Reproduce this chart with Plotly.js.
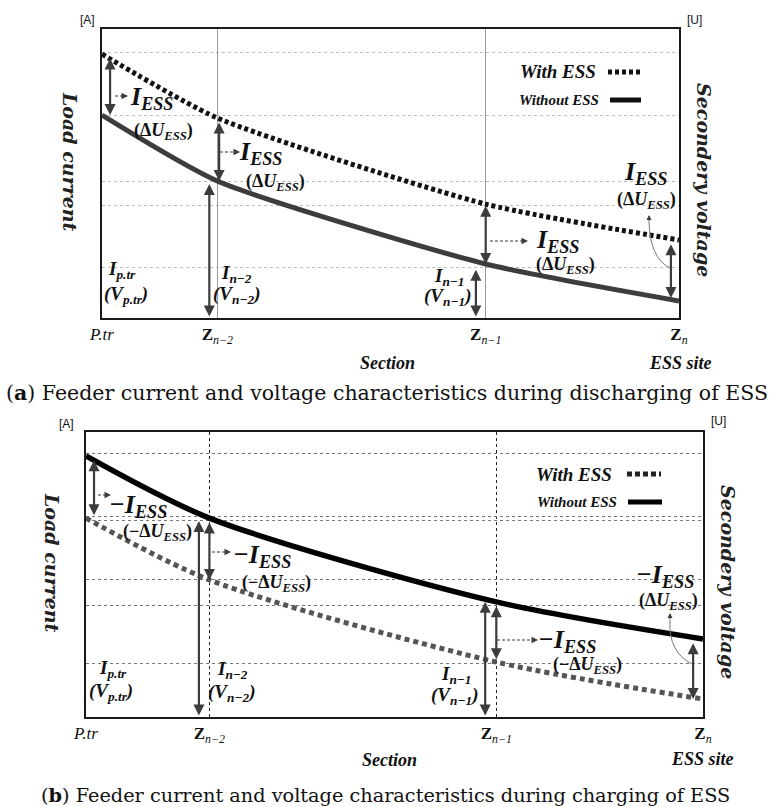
<!DOCTYPE html>
<html>
<head>
<meta charset="utf-8">
<script src="https://cdn.plot.ly/plotly-3.0.1.min.js"></script>
<style>html,body{margin:0;padding:0;background:#fff;}#chart{width:773px;height:807px;}</style>
</head>
<body>
<div id="chart"></div>
<script>
// ---------- data ----------
const sections = [0, 2, 6.65, 10];           // P.tr, Z_{n-2}, Z_{n-1}, Z_n
const sectionLabels = ['<i>P.tr</i>', '<b>Z</b><sub><i>n−2</i></sub>', '<b>Z</b><sub><i>n−1</i></sub>', '<b>Z</b><sub><i>n</i></sub>'];
const dischargeWithESS    = [91.3, 69.2, 39.4, 27.0];
const dischargeWithoutESS = [70.2, 47.4, 18.7, 5.9];
const chargeWithoutESS    = [91.6, 69.8, 40.4, 27.4];
const chargeWithESS       = [69.8, 48.1, 19.3, 6.3];
const gridLevelsA = [91.7, 70.2, 47.1, 39.1, 17.6];
const gridLevelsB = [92.3, 70.5, 68.8, 48.1, 39.3, 18.6];

// ---------- helpers ----------
const W = 773, H = 807;
const px = x => x / W;
const py = y => 1 - y / H;
const MATH = 'Liberation Serif';
const ARROW = '#3c3c3c';

function txt(x, y, text, size, extra) {
  return Object.assign({
    xref: 'paper', yref: 'paper', x: px(x), y: py(y), text: text, showarrow: false,
    xanchor: 'center', yanchor: 'middle',
    font: {family: MATH, size: size, color: '#111', style: 'italic', weight: 'bold'}
  }, extra || {});
}
function dbl(xr, yr, x, y0, y1) {
  return {xref: xr, yref: yr, axref: xr, ayref: yr, x: x, y: y1, ax: x, ay: y0,
    text: '', showarrow: true, arrowhead: 2, startarrowhead: 2, arrowside: 'end+start',
    arrowsize: 1, startarrowsize: 1, arrowwidth: 2.2, arrowcolor: ARROW, standoff: 0, startstandoff: 0};
}
function head(x, y, ax, ay, w) {
  return {xref: 'paper', yref: 'paper', x: px(x), y: py(y), ax: ax, ay: ay, text: '',
    showarrow: true, arrowhead: 2, arrowsize: 1, arrowwidth: w || 1.3, arrowcolor: ARROW};
}
function dashLine(x0, x1, y) {
  return {type: 'line', xref: 'paper', yref: 'paper', x0: px(x0), x1: px(x1 - 4), y0: py(y), y1: py(y),
    line: {color: ARROW, width: 1.2, dash: '3px,2px'}};
}
const dUfont = {family: MATH, size: 18, color: '#111', weight: 'bold'};
const axisTitleFont = {family: 'DejaVu Serif', size: 19, color: '#222', style: 'italic', weight: 'bold'};
const unitFont = {family: 'Liberation Sans', size: 12, color: '#111'};

// ---------- traces ----------
const traces = [
  {x: sections, y: dischargeWithESS, xaxis: 'x', yaxis: 'y', mode: 'lines', name: 'With ESS',
   line: {color: '#111', width: 5, dash: '4px,3px', shape: 'spline', smoothing: 0.6}},
  {x: sections, y: dischargeWithoutESS, xaxis: 'x', yaxis: 'y', mode: 'lines', name: 'Without ESS',
   line: {color: '#3d3d3d', width: 5, shape: 'spline', smoothing: 0.6}},
  {x: sections, y: chargeWithoutESS, xaxis: 'x2', yaxis: 'y2', mode: 'lines', name: 'Without ESS',
   line: {color: '#000', width: 5.5, shape: 'spline', smoothing: 0.8}},
  {x: sections, y: chargeWithESS, xaxis: 'x2', yaxis: 'y2', mode: 'lines', name: 'With ESS',
   line: {color: '#555', width: 5, dash: '5px,4px', shape: 'spline', smoothing: 0.8}}
];

// ---------- axes ----------
function xax(domain, gridColor, gridDash) {
  return {domain: domain, range: [0, 10], tickvals: sections, ticktext: sectionLabels,
    showgrid: true, gridcolor: gridColor, griddash: gridDash, gridwidth: 1, zeroline: false,
    showline: true, mirror: true, linecolor: '#1a1a1a', linewidth: 2, ticks: '',
    tickfont: {family: MATH, size: 17, color: '#111'}, fixedrange: true};
}
function yax(domain, levels, gridColor) {
  return {domain: domain, range: [0, 100], tickvals: levels, showticklabels: false,
    showgrid: true, gridcolor: gridColor, griddash: 'dot', gridwidth: 1, zeroline: false,
    showline: true, mirror: true, linecolor: '#1a1a1a', linewidth: 2, ticks: '', fixedrange: true};
}

const layout = {
  width: W, height: H, margin: {l: 0, r: 0, t: 0, b: 0},
  paper_bgcolor: '#fff', plot_bgcolor: '#fff', showlegend: false,
  xaxis: xax([102 / W, 679 / W], '#9a9a9a', 'solid'),
  yaxis: yax([1 - 318 / H, 1 - 29 / H], gridLevelsA, '#bdbdbd'),
  xaxis2: Object.assign(xax([86 / W, 703 / W], '#222', 'dot'), {anchor: 'y2'}),
  yaxis2: Object.assign(yax([1 - 717 / H, 1 - 432 / H], gridLevelsB, '#777'), {anchor: 'x2'}),
  shapes: [], annotations: []
};
const A = layout.annotations, S = layout.shapes;

// ---------- panel (a) ----------
A.push(txt(87, 20, '[A]', 12, {font: unitFont}));
A.push(txt(694, 20, '[U]', 12, {font: unitFont}));
A.push(txt(70, 162, 'Load current', 20, {textangle: 90, font: axisTitleFont}));
A.push(txt(704, 180, 'Secondery voltage', 20, {textangle: 90, font: axisTitleFont}));
A.push(txt(387, 363, 'Section', 18));
A.push(txt(680, 363, 'ESS site', 18));
// legend
A.push(txt(598, 72, 'With ESS', 19, {xanchor: 'right'}));
A.push(txt(601, 100, 'Without ESS', 15, {xanchor: 'right'}));
S.push({type: 'line', xref: 'paper', yref: 'paper', x0: px(608), x1: px(641), y0: py(72), y1: py(72), line: {color: '#111', width: 5, dash: '4px,3px'}});
S.push({type: 'line', xref: 'paper', yref: 'paper', x0: px(610), x1: px(641), y0: py(100), y1: py(100), line: {color: '#111', width: 5}});
// difference arrows (from data)
A.push(dbl('x', 'y', sections[0] - 0.10, 0, dischargeWithoutESS[0] - 2));
A.push(dbl('x', 'y', sections[0] + 0.14, dischargeWithESS[0] - 1, dischargeWithoutESS[0]));
A.push(dbl('x', 'y', sections[1] - 0.14, 0, dischargeWithoutESS[1] - 1));
A.push(dbl('x', 'y', sections[1] + 0.03, dischargeWithESS[1] - 1, dischargeWithoutESS[1]));
A.push(dbl('x', 'y', sections[2] - 0.17, 0, dischargeWithoutESS[2] - 2));
A.push(dbl('x', 'y', sections[2], dischargeWithESS[2], dischargeWithoutESS[2]));
A.push(dbl('x', 'y', sections[3] - 0.14, dischargeWithESS[3] - 1, dischargeWithoutESS[3] + 1));
A.push(dbl('x', 'y', sections[3] + 0.14, dischargeWithoutESS[3] + 1.5, -2.5));
// labels
const Iess = '<i>I</i><sub><i>ESS</i></sub>';
const dU = '(Δ<i>U</i><sub><b><i>ESS</i></b></sub>)';
A.push(txt(152, 98, Iess, 26));
A.push(txt(163, 131, dU, 18, {font: dUfont}));
A.push(txt(261, 153, Iess, 26));
A.push(txt(275, 182, dU, 18, {font: dUfont}));
A.push(txt(558, 241, Iess, 26));
A.push(txt(565, 265, dU, 18, {font: dUfont}));
A.push(txt(646, 173, Iess, 26));
A.push(txt(646, 200, dU, 18, {font: dUfont}));
A.push(txt(122, 270, '<i>I</i><sub><i>p.tr</i></sub>', 19));
A.push(txt(126, 295, '(<i>V</i><sub><i>p.tr</i></sub>)', 19));
A.push(txt(236, 274, '<i>I</i><sub><i>n−2</i></sub>', 19));
A.push(txt(237, 295, '(<i>V</i><sub><i>n−2</i></sub>)', 19));
A.push(txt(449, 277, '<i>I</i><sub><i>n−1</i></sub>', 19));
A.push(txt(448, 297, '(<i>V</i><sub><i>n−1</i></sub>)', 19));
// dashed arrows
S.push(dashLine(115, 127, 96)); A.push(head(128, 96, -6, 0));
S.push(dashLine(220, 239, 152)); A.push(head(240, 152, -6, 0));
S.push(dashLine(490, 527, 241)); A.push(head(528, 241, -6, 0));
// curved pointer
S.push({type: 'path', xref: 'paper', yref: 'paper',
  path: `M ${px(670)} ${py(268)} Q ${px(650)} ${py(258)} ${px(649)} ${py(222)}`,
  line: {color: '#777', width: 1}});
A.push(head(649, 215, 0, 8, 1));
// caption
A.push(txt(387, 393, '(<b>a</b>) Feeder current and voltage characteristics during discharging of ESS', 20.5,
  {font: {family: 'DejaVu Serif', size: 20.5, color: '#111'}}));

// ---------- panel (b) ----------
A.push(txt(66, 424, '[A]', 12, {font: unitFont}));
A.push(txt(718, 421, '[U]', 12, {font: unitFont}));
A.push(txt(52, 563, 'Load current', 20, {textangle: 90, font: axisTitleFont}));
A.push(txt(728, 582, 'Secondery voltage', 20, {textangle: 90, font: axisTitleFont}));
A.push(txt(390, 760, 'Section', 18));
A.push(txt(702, 759, 'ESS site', 18));
A.push(txt(614, 474, 'With ESS', 19, {xanchor: 'right'}));
A.push(txt(619, 502, 'Without ESS', 15, {xanchor: 'right'}));
S.push({type: 'line', xref: 'paper', yref: 'paper', x0: px(627), x1: px(661), y0: py(474), y1: py(474), line: {color: '#222', width: 5, dash: '5px,3px'}});
S.push({type: 'line', xref: 'paper', yref: 'paper', x0: px(628), x1: px(662), y0: py(502), y1: py(502), line: {color: '#000', width: 5}});
A.push(dbl('x2', 'y2', sections[0] - 0.13, 0, chargeWithoutESS[0] - 1));
A.push(dbl('x2', 'y2', sections[0] + 0.13, chargeWithoutESS[0] - 1, chargeWithESS[0] + 1));
A.push(dbl('x2', 'y2', sections[1] - 0.17, 0, chargeWithoutESS[1] - 1));
A.push(dbl('x2', 'y2', sections[1], chargeWithoutESS[1] - 1, chargeWithESS[1]));
A.push(dbl('x2', 'y2', sections[2] - 0.18, 0, chargeWithoutESS[2]));
A.push(dbl('x2', 'y2', sections[2], chargeWithoutESS[2] - 1, chargeWithESS[2] + 1));
A.push(dbl('x2', 'y2', sections[3] - 0.16, chargeWithoutESS[3] - 1, chargeWithESS[3]));
A.push(dbl('x2', 'y2', sections[3] + 0.13, chargeWithoutESS[3], 0));
const mIess = '−<i>I</i><sub><i>ESS</i></sub>';
const mdU = '(−Δ<i>U</i><sub><b><i>ESS</i></b></sub>)';
A.push(txt(138, 506, mIess, 26));
A.push(txt(157, 532, mdU, 18, {font: dUfont}));
A.push(txt(262, 556, mIess, 26));
A.push(txt(276, 583, mdU, 18, {font: dUfont}));
A.push(txt(567, 641, mIess, 26));
A.push(txt(587, 665, mdU, 18, {font: dUfont}));
A.push(txt(665, 576, mIess, 26));
A.push(txt(668, 601, dU, 18, {font: dUfont}));
A.push(txt(113, 669, '<i>I</i><sub><i>p.tr</i></sub>', 19));
A.push(txt(111, 692, '(<i>V</i><sub><i>p.tr</i></sub>)', 19));
A.push(txt(232, 670, '<i>I</i><sub><i>n−2</i></sub>', 19));
A.push(txt(231, 693, '(<i>V</i><sub><i>n−2</i></sub>)', 19));
A.push(txt(456, 675, '<i>I</i><sub><i>n−1</i></sub>', 19));
A.push(txt(455, 696, '(<i>V</i><sub><i>n−1</i></sub>)', 19));
S.push(dashLine(98, 110, 495)); A.push(head(111, 495, -6, 0));
S.push(dashLine(212, 230, 552)); A.push(head(231, 552, -6, 0));
S.push(dashLine(497, 537, 640)); A.push(head(538, 640, -6, 0));
S.push({type: 'path', xref: 'paper', yref: 'paper',
  path: `M ${px(692)} ${py(664)} Q ${px(668)} ${py(652)} ${px(670)} ${py(620)}`,
  line: {color: '#777', width: 1}});
A.push(head(670, 613, 0, 8, 1));
A.push(txt(385, 795, '(<b>b</b>) Feeder current and voltage characteristics during charging of ESS', 19.3,
  {font: {family: 'DejaVu Serif', size: 19.3, color: '#111'}}));

Plotly.newPlot('chart', traces, layout, {staticPlot: true, displayModeBar: false});
</script>
</body>
</html>
